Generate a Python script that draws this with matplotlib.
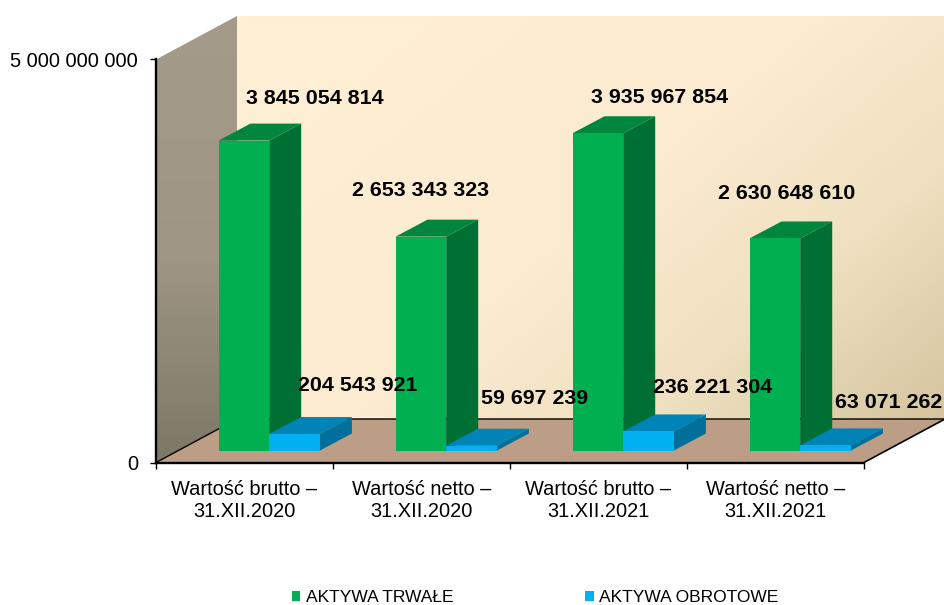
import matplotlib
matplotlib.use('Agg')
import matplotlib.pyplot as plt
import numpy as np
from matplotlib.colors import LinearSegmentedColormap
from matplotlib.patches import Patch, Polygon

plt.rcParams['font.family'] = ['Liberation Sans', 'DejaVu Sans']

categories = ['Wartość brutto –\n31.XII.2020', 'Wartość netto –\n31.XII.2020',
              'Wartość brutto –\n31.XII.2021', 'Wartość netto –\n31.XII.2021']
trwale = [3845054814, 2653343323, 3935967854, 2630648610]
obrotowe = [204543921, 59697239, 236221304, 63071262]
series_names = ['AKTYWA TRWAŁE', 'AKTYWA OBROTOWE']

y_max = 5000000000

# pixels per unit, the fake 3d is all done with these
px_x = 177.0
px_y = 403.0 / y_max

fig = plt.figure(figsize=(9.44, 6.05), dpi=100)
ax = fig.add_axes([156 / 944, (605 - 462.5) / 605, 708 / 944, 403 / 605])
ax.set_facecolor('none')


def dx(p):
    return p / px_x


def dy(p):
    return p / px_y


def gradient(corners, stops, t):
    cmap = LinearSegmentedColormap.from_list('g', stops)
    xs = [c[0] for c in corners]
    ys = [c[1] for c in corners]
    im = ax.imshow(t, cmap=cmap, vmin=0, vmax=1, origin='lower', aspect='auto',
                   extent=(min(xs), max(xs), min(ys), max(ys)), zorder=0,
                   interpolation='bilinear')
    poly = Polygon(corners, closed=True, transform=ax.transData)
    im.set_clip_box(fig.bbox)
    im.set_clip_path(poly)


wall_dx = dx(81)
wall_dy = dy(43.5)
u, v = np.meshgrid(np.linspace(0, 1, 200), np.linspace(0, 1, 200))

# back wall
t_back = np.clip(u * 0.6 + (1 - v) * 0.4, 0, 1)
gradient([(wall_dx, wall_dy), (4 + wall_dx, wall_dy), (4 + wall_dx, y_max + wall_dy), (wall_dx, y_max + wall_dy)],
         [(0, '#FFF0D6'), (0.5, '#FBEBD0'), (0.75, '#EEE0C0'), (1, '#D5C49E')], t_back)

# left wall
t_left = 1 - v
gradient([(0, 0), (wall_dx, wall_dy), (wall_dx, y_max + wall_dy), (0, y_max)],
         [(0, '#A49B8A'), (0.55, '#9E9583'), (1, '#7D7866')], t_left)

# floor
ax.add_patch(Polygon([(0, 0), (4, 0), (4 + wall_dx, wall_dy), (wall_dx, wall_dy)], closed=True,
                     facecolor='#BC9D85', edgecolor='none', clip_on=False, zorder=1))
ax.plot([0, wall_dx, 4 + wall_dx], [0, wall_dy, wall_dy], color='black', lw=1.0, clip_on=False, zorder=1.5)
ax.plot([4, 4 + wall_dx], [0, wall_dy], color='black', lw=1.2, clip_on=False, zorder=1.5)


def bar3d(left, height, colors, z):
    w = dx(50.7)
    bx = dx(32)
    by = dy(17)
    base = dy(12)
    top = base + height
    ax.add_patch(Polygon([(left, top), (left + w, top), (left + w + bx, top + by), (left + bx, top + by)],
                         closed=True, facecolor=colors[1], edgecolor='none', clip_on=False, zorder=z))
    ax.add_patch(Polygon([(left + w, base), (left + w + bx, base + by), (left + w + bx, top + by), (left + w, top)],
                         closed=True, facecolor=colors[2], edgecolor='none', clip_on=False, zorder=z))
    ax.add_patch(Polygon([(left, base), (left + w, base), (left + w, top), (left, top)],
                         closed=True, facecolor=colors[0], edgecolor='none', clip_on=False, zorder=z))
    return top


green = ['#00B050', '#00873D', '#006F33']
blue = ['#00B0F0', '#0084B8', '#006F9C']

# label shift from bar corner, in pixels
green_shift = [(96, 42), (24.5, 46), (87.5, 36), (37.5, 45)]
blue_shift = [(89, 49), (88, 47), (89, 44), (88, 43)]


def fmt(v):
    return f'{v:,}'.replace(',', ' ')


for i in range(len(categories)):
    left = i + dx(62.5)
    mid = left + dx(50.7)
    top1 = bar3d(left, trwale[i], green, 3)
    top2 = bar3d(mid, obrotowe[i], blue, 4)
    ax.annotate(fmt(trwale[i]), xy=(left, top1), xytext=(green_shift[i][0] * 0.72, green_shift[i][1] * 0.72),
                textcoords='offset points', ha='center', va='center', fontsize=15.4, fontweight='bold',
                color='black', annotation_clip=False, zorder=6)
    ax.annotate(fmt(obrotowe[i]), xy=(mid, top2), xytext=(blue_shift[i][0] * 0.72, blue_shift[i][1] * 0.72),
                textcoords='offset points', ha='center', va='center', fontsize=15.4, fontweight='bold',
                color='black', annotation_clip=False, zorder=6)

ax.set_xlim(0, 4)
ax.set_ylim(0, y_max)

for s in ['top', 'right']:
    ax.spines[s].set_visible(False)
ax.spines['left'].set_linewidth(1.7)
ax.spines['bottom'].set_linewidth(1.7)

ax.set_yticks([0, y_max])
ax.set_yticklabels(['0', fmt(y_max)], fontsize=14.4)
ax.tick_params(axis='y', length=4, width=1, pad=9)
ax.set_xticks([0, 1, 2, 3, 4])
ax.set_xticklabels([])
ax.tick_params(axis='x', which='major', length=4, width=1)
ax.set_xticks([0.5, 1.5, 2.5, 3.5], minor=True)
ax.set_xticklabels(categories, minor=True, fontsize=14.4, linespacing=1.2)
ax.tick_params(axis='x', which='minor', length=0, pad=12.5)

handles = [Patch(facecolor=green[0], label=series_names[0]), Patch(facecolor=blue[0], label=series_names[1])]
fig.legend(handles=handles, ncol=2, loc='center', bbox_to_anchor=(535 / 944, (605 - 598) / 605), frameon=False,
           fontsize=12.5, handlelength=0.5, handleheight=0.5, handletextpad=0.3, columnspacing=7.6,
           borderpad=0, borderaxespad=0)

fig.savefig('out.png', dpi=100)
